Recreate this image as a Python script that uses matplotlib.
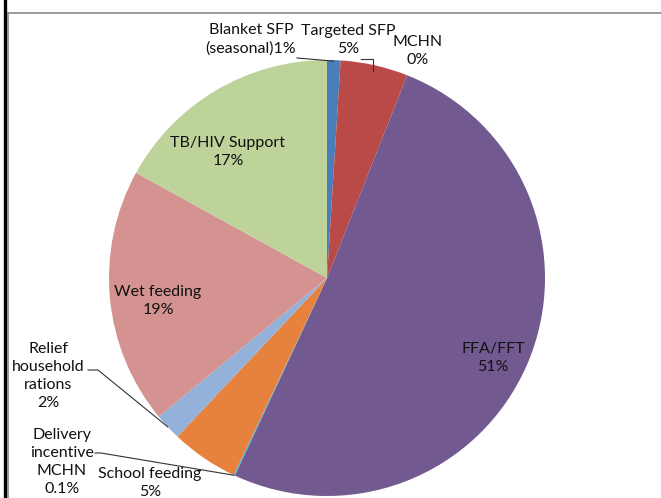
import numpy as np
import matplotlib.pyplot as plt
from matplotlib.lines import Line2D

# Share of food distributed by programme activity
activities = ["Blanket SFP\n(seasonal)", "Targeted SFP", "MCHN", "FFA/FFT",
              "Delivery\nincentive\nMCHN", "School feeding",
              "Relief\nhousehold\nrations", "Wet feeding", "TB/HIV Support"]
shares = [1, 5, 0, 51, 0.1, 5, 2, 19, 17]
colors = ["#4a7ebb", "#b94a47", "#98b954", "#725990", "#4bacc6",
          "#e6823d", "#94b2d9", "#d49391", "#bdd39a"]

W, H = 661, 498
CX, CY, R = 327, 278, 218


def px(x, y):
    # image-style coordinates (y down) -> axes data (y up)
    return x, H - y


fig = plt.figure(figsize=(W / 100, H / 100), dpi=100)
ax = fig.add_axes([0, 0, 1, 1])
ax.pie(shares, colors=colors, startangle=90, counterclock=False,
       center=px(CX, CY), radius=R, wedgeprops=dict(linewidth=0))
ax.set_xlim(0, W)
ax.set_ylim(0, H)
ax.set_aspect("equal")
ax.axis("off")

# mid angle of each wedge, for leader lines
total = sum(shares)
edges = 90 - 360 * np.cumsum([0] + shares) / total
mids = (edges[:-1] + edges[1:]) / 2


def edge_point(i, r=R):
    a = np.radians(mids[i])
    return CX + r * np.cos(a), CY - r * np.sin(a)


font = dict(family="Lato", fontsize=11.5, color="#111111", ha="center",
            va="center", linespacing=1.38)


def label(i, x, y, inline=False):
    pct = f"{shares[i]:g}%"
    sep = "" if inline else "\n"
    ax.text(*px(x, y), activities[i] + sep + pct, **font)


label(0, 251, 39, inline=True)
label(1, 348, 40)
label(2, 418, 51)
label(3, 493, 358)
label(4, 62, 462)
label(5, 150, 483)
label(6, 48, 376)
label(7, 158, 301)
label(8, 228, 152)

lc = dict(color="#333333", linewidth=0.8)
ex, ey = edge_point(0, R - 1)
ax.plot(*zip(px(297, 58), px(ex, ey)), **lc)
ex, ey = edge_point(1, R - 6)
ax.plot(*zip(px(361, 59), px(ex, 59), px(ex, ey)), **lc)
ex, ey = edge_point(6)
ax.plot(*zip(px(88, 370), px(98, 370), px(ex, ey)), **lc)
ex, ey = edge_point(4)
ax.plot(*zip(px(95, 453), px(101, 453), px(ex, ey)), **lc)

# outer frame lines
fig.add_artist(Line2D([4.5 / W, 4.5 / W], [0, 1], color="black", linewidth=2.4,
                      transform=fig.transFigure))
fig.add_artist(Line2D([8 / W, 1], [1 - 13.5 / H, 1 - 13.5 / H], color="#8a8a8a",
                      linewidth=1.2, transform=fig.transFigure))
fig.add_artist(Line2D([8 / W, 8 / W], [0, 1 - 13.5 / H], color="#8a8a8a",
                      linewidth=1.2, transform=fig.transFigure))

fig.savefig("out.png", dpi=100)
